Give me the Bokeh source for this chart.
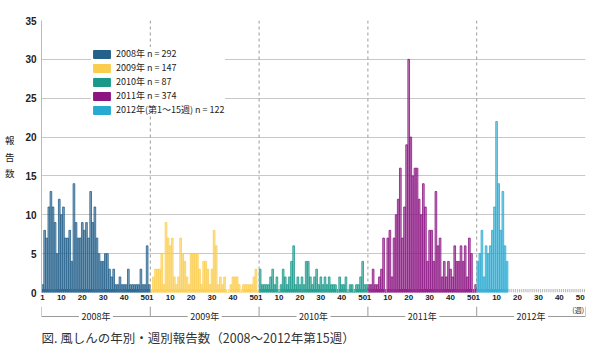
from bokeh.plotting import figure
from bokeh.models import ColumnDataSource, FixedTicker, Span, Legend, LegendItem, Range1d
from bokeh.layouts import column
from bokeh.embed import file_html
from bokeh.resources import INLINE
from bokeh.core.properties import value

# ---------------- data ----------------
years = ["2008年", "2009年", "2010年", "2011年", "2012年"]
legend_labels = ["2008年 n = 292", "2009年 n = 147", "2010年 n = 87",
                 "2011年 n = 374", "2012年(第1〜15週) n = 122"]
cases_2008 = [1, 8, 7, 11, 13, 11, 9, 5, 12, 10,
              11, 7, 7, 8, 4, 14, 9, 7, 7, 9,
              8, 9, 7, 13, 9, 11, 7, 5, 4, 4,
              5, 5, 3, 2, 3, 1, 1, 2, 1, 1,
              1, 3, 1, 1, 1, 1, 1, 3, 1, 1,
              6, 1]
cases_2009 = [0, 2, 3, 3, 3, 5, 1, 9, 7, 6,
              7, 2, 1, 2, 7, 5, 4, 2, 1, 5,
              5, 5, 5, 3, 1, 4, 4, 3, 1, 3,
              8, 6, 1, 2, 1, 2, 0, 0, 1, 2,
              2, 2, 1, 0, 1, 1, 1, 1, 1, 2,
              3, 0]
cases_2010 = [3, 1, 1, 1, 1, 2, 3, 1, 2, 0,
              1, 3, 2, 1, 2, 4, 6, 1, 2, 1,
              2, 1, 4, 4, 2, 1, 2, 3, 1, 2,
              1, 2, 1, 2, 1, 1, 1, 0, 2, 1,
              1, 2, 0, 1, 1, 0, 1, 1, 2, 4,
              1, 1]
cases_2011 = [1, 1, 3, 1, 1, 2, 3, 7, 0, 7,
              8, 2, 7, 10, 12, 16, 7, 11, 19, 30,
              20, 15, 16, 16, 12, 10, 14, 11, 4, 8,
              8, 4, 13, 6, 7, 2, 4, 2, 4, 3,
              2, 6, 4, 4, 6, 4, 6, 2, 7, 5,
              0, 1]
cases_2012 = [4, 5, 8, 2, 6, 5, 6, 8, 11, 22, 14, 8, 13, 6, 4]
series = [cases_2008, cases_2009, cases_2010, cases_2011, cases_2012]
colors = ["#23608c", "#fbcd4e", "#19998a", "#8c1583", "#27aad2"]
week_ticks = [1, 10, 20, 30, 40, 50]
y_ticks = [0, 5, 10, 15, 20, 25, 30, 35]
WEEKS = 52
caption = "図. 風しんの年別・週別報告数（2008〜2012年第15週）"
week_unit = "(週)"

# ---------------- layout constants ----------------
W, MAIN_H, BOT_H = 588, 306, 52
FL, FR, FT, FB = 41, 3, 20, 14
JP = "Noto Sans CJK JP"
NUM = "Liberation Sans"
NAN = float("nan")
x0, x1 = 0.5, len(years) * WEEKS + 0.5

p = figure(width=W, height=MAIN_H, x_range=Range1d(x0, x1), y_range=Range1d(0, 35),
           output_backend="svg", toolbar_location=None,
           min_border_left=FL, min_border_right=FR, min_border_top=FT, min_border_bottom=FB)
p.outline_line_color = None
p.background_fill_color = "white"
p.xgrid.visible = False
p.ygrid.ticker = FixedTicker(ticks=y_ticks)
p.ygrid.grid_line_color = "#c8c8c8"
p.ygrid.grid_line_width = 1.2

# baseline strip (every week)
sx, sc = [], []
for i, vals in enumerate(series):
    for k in range(1, WEEKS + 1):
        sx.append(i * WEEKS + k)
        sc.append(colors[i] if k <= len(vals) else "#b0b0b0")
p.vbar(x="x", top=0.45, bottom=0, width=0.55, source=ColumnDataSource(dict(x=sx, c=sc)),
       fill_color="c", fill_alpha=0.85, line_color=None)

items = []
for i, vals in enumerate(series):
    xs = [i * WEEKS + k for k in range(1, len(vals) + 1)]
    p.vbar(x=xs, top=vals, bottom=0, width=0.8, fill_color=colors[i], fill_alpha=0.55,
           line_color=colors[i], line_width=0.8)
    # legend swatch only (solid colour, nothing drawn in the plot)
    sw = p.vbar(x=[NAN], top=[NAN], width=0.8, fill_color=colors[i], fill_alpha=1,
                line_color=colors[i])
    items.append(LegendItem(label=legend_labels[i], renderers=[sw]))

for i in range(1, len(years)):
    p.add_layout(Span(location=i * WEEKS + 0.5, dimension="height", line_color="#999999",
                      line_dash="3 3", line_width=1))

legend = Legend(items=items, location=(50, 176))
legend.background_fill_color = "white"
legend.background_fill_alpha = 1
legend.border_line_color = None
legend.label_text_font = JP
legend.label_text_font_size = "9px"
legend.label_text_color = "#222222"
legend.glyph_width = 21
legend.glyph_height = 10
legend.label_height = 13
legend.label_standoff = 4
legend.spacing = 1
legend.padding = 6
legend.margin = 0
p.add_layout(legend)

ya = p.yaxis[0]
ya.ticker = FixedTicker(ticks=y_ticks)
ya.major_tick_out = 0
ya.major_tick_in = 0
ya.minor_tick_out = 0
ya.minor_tick_in = 0
ya.axis_line_color = "#bbbbbb"
ya.major_label_text_font = NUM
ya.major_label_text_font_size = "10px"
ya.major_label_text_font_style = "bold"
ya.major_label_text_color = "#222222"
ya.major_label_standoff = 5
ya.axis_label = "報\n告\n数"
ya.axis_label_orientation = "horizontal"
ya.axis_label_text_font = JP
ya.axis_label_text_font_size = "9.5px"
ya.axis_label_text_font_style = "normal"
ya.axis_label_text_color = "#222222"
ya.axis_label_standoff = 8

xa = p.xaxis[0]
xt = []
overrides = {}
for i in range(len(years)):
    for w in week_ticks:
        xt.append(i * WEEKS + w)
        overrides[i * WEEKS + w] = str(w)
xa.ticker = FixedTicker(ticks=xt)
xa.major_label_overrides = overrides
xa.axis_line_color = None
xa.major_tick_out = 0
xa.major_tick_in = 0
xa.minor_tick_out = 0
xa.minor_tick_in = 0
xa.major_label_text_font = NUM
xa.major_label_text_font_size = "8px"
xa.major_label_text_font_style = "bold"
xa.major_label_text_color = "#222222"
xa.major_label_standoff = 2

# ---------------- bottom strip: year brackets + caption ----------------
q = figure(width=W, height=BOT_H, x_range=p.x_range,
           y_range=Range1d(0, BOT_H), output_backend="svg", toolbar_location=None,
           x_axis_type=None, y_axis_type=None,
           min_border_left=FL, min_border_right=FR, min_border_top=0, min_border_bottom=0)
q.outline_line_color = None
q.xgrid.visible = False
q.ygrid.visible = False

upp = (x1 - x0) / (W - FL - FR)
bounds = [x0 + i * WEEKS for i in range(len(years) + 1)]
centers = [x0 + i * WEEKS + WEEKS / 2 for i in range(len(years))]
ly = BOT_H - 10
gap = 17 * upp
q.segment(x0=bounds, y0=[BOT_H] * len(bounds), x1=bounds, y1=[ly] * len(bounds),
          line_color="#9a9a9a", line_width=1)
hx0, hx1 = [], []
for i, c in enumerate(centers):
    hx0 += [bounds[i], c + gap]
    hx1 += [c - gap, bounds[i + 1]]
q.segment(x0=hx0, y0=[ly] * len(hx0), x1=hx1, y1=[ly] * len(hx0),
          line_color="#9a9a9a", line_width=1)
q.text(x=centers, y=[ly] * len(centers), text=years, text_align="center",
       text_baseline="middle", text_font=value(JP), text_font_size="9px", text_color="#222222")
q.text(x=[x1 - 1.5 * upp], y=[BOT_H - 3], text=[week_unit], text_align="right", text_baseline="middle",
       text_font=value(JP), text_font_size="7px", text_color="#222222")
q.text(x=[x0], y=[BOT_H - 31], text=[caption], text_align="left",
       text_baseline="middle", text_font=value(JP), text_font_size="12.5px", text_color="#333333")

layout = column(p, q, spacing=0)
open("out.html", "w").write(file_html(layout, INLINE))
